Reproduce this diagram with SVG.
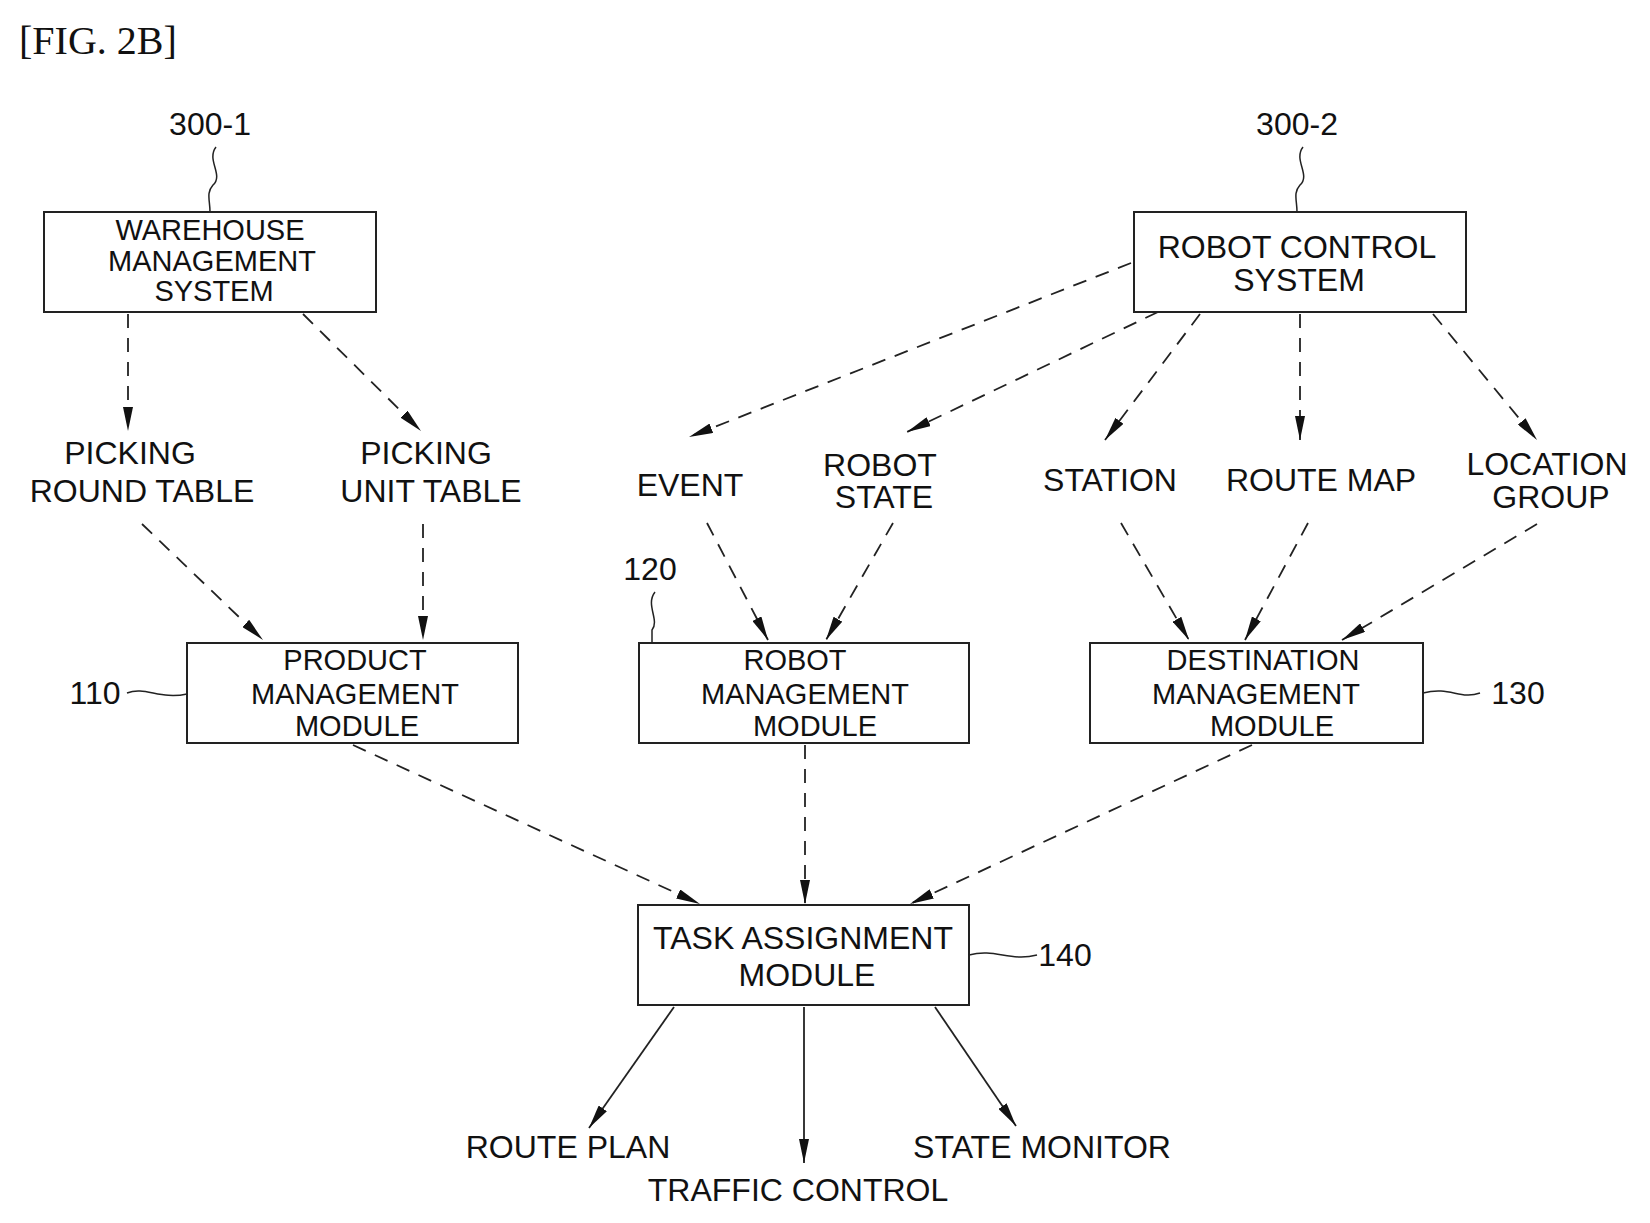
<svg xmlns="http://www.w3.org/2000/svg" width="1650" height="1223" viewBox="0 0 1650 1223">
<style>
text{font-family:"Liberation Sans",Arial,sans-serif;font-size:32px;fill:#111;text-anchor:middle}
.m{font-size:29px}
.box{fill:#fff;stroke:#222;stroke-width:2}
.d{stroke:#222;stroke-width:1.8;fill:none;stroke-dasharray:14 10}
.s{stroke:#222;stroke-width:1.8;fill:none}
.lead{stroke:#222;stroke-width:1.5;fill:none}
</style>
<defs>
<marker id="ah" viewBox="0 0 24 10" refX="24" refY="5" markerWidth="24" markerHeight="10" markerUnits="userSpaceOnUse" orient="auto">
<path d="M0,0 L24,5 L0,10 Z" fill="#111"/>
</marker>
</defs>
<rect width="1650" height="1223" fill="#fff"/>
<text x="19" y="54" style="font-family:'Liberation Serif',serif;font-size:40px;text-anchor:start">[FIG. 2B]</text>

<g id="connectors">
<path class="d" d="M128,314 L128,431" marker-end="url(#ah)"/>
<path class="d" d="M303,314 L421,431" marker-end="url(#ah)"/>
<path class="d" d="M142,524 L263,640" marker-end="url(#ah)"/>
<path class="d" d="M423,524 L423,640" marker-end="url(#ah)"/>
<path class="d" d="M1131,263 L689,437" marker-end="url(#ah)"/>
<path class="d" d="M1158,312 L907,432" marker-end="url(#ah)"/>
<path class="d" d="M1200,314 L1105,440" marker-end="url(#ah)"/>
<path class="d" d="M1300,314 L1300,440" marker-end="url(#ah)"/>
<path class="d" d="M1433,314 L1537,440" marker-end="url(#ah)"/>
<path class="d" d="M707,523 L768,640" marker-end="url(#ah)"/>
<path class="d" d="M893,523 L826,640" marker-end="url(#ah)"/>
<path class="d" d="M1121,523 L1189,640" marker-end="url(#ah)"/>
<path class="d" d="M1308,523 L1245,640" marker-end="url(#ah)"/>
<path class="d" d="M1537,524 L1342,640" marker-end="url(#ah)"/>
<path class="d" d="M353,745 L700,904" marker-end="url(#ah)"/>
<path class="d" d="M805,745 L805,904" marker-end="url(#ah)"/>
<path class="d" d="M1252,745 L910,904" marker-end="url(#ah)"/>
<path class="s" d="M674,1007 L589,1128" marker-end="url(#ah)"/>
<path class="s" d="M804,1007 L804,1163" marker-end="url(#ah)"/>
<path class="s" d="M935,1007 L1016,1126" marker-end="url(#ah)"/>
</g>

<g id="n300-1">
<text x="210" y="135">300-1</text>
<path class="lead" d="M216,147 C206,160 224,175 213,185 C206,193 210,200 210,212"/>
</g>
<g id="wms">
<rect class="box" x="44" y="212" width="332" height="100"/>
<text class="m" x="210" y="240">WAREHOUSE</text>
<text class="m" x="212" y="271">MANAGEMENT</text>
<text class="m" x="214" y="301">SYSTEM</text>
</g>
<g id="n300-2">
<text x="1297" y="135">300-2</text>
<path class="lead" d="M1303,147 C1293,160 1311,175 1300,185 C1293,193 1297,200 1297,212"/>
</g>
<g id="rcs">
<rect class="box" x="1134" y="212" width="332" height="100"/>
<text x="1297" y="258">ROBOT CONTROL</text>
<text x="1299" y="291">SYSTEM</text>
</g>
<g id="picking-round"><text x="130" y="464">PICKING</text><text x="142" y="502">ROUND TABLE</text></g>
<g id="picking-unit"><text x="426" y="464">PICKING</text><text x="431" y="502">UNIT TABLE</text></g>
<g id="event"><text x="690" y="496">EVENT</text></g>
<g id="robot-state"><text x="880" y="476">ROBOT</text><text x="884" y="508">STATE</text></g>
<g id="station"><text x="1110" y="491">STATION</text></g>
<g id="route-map"><text x="1321" y="491">ROUTE MAP</text></g>
<g id="location-group"><text x="1547" y="475">LOCATION</text><text x="1551" y="508">GROUP</text></g>

<g id="product">
<rect class="box" x="187" y="643" width="331" height="100"/>
<text class="m" x="355" y="670">PRODUCT</text>
<text class="m" x="355" y="704">MANAGEMENT</text>
<text class="m" x="357" y="736">MODULE</text>
<text x="95" y="704">110</text>
<path class="lead" d="M127,693 C145,686 160,700 187,694"/>
</g>
<g id="robot-mgmt">
<rect class="box" x="639" y="643" width="330" height="100"/>
<text class="m" x="795" y="670">ROBOT</text>
<text class="m" x="805" y="704">MANAGEMENT</text>
<text class="m" x="815" y="736">MODULE</text>
<text x="650" y="580">120</text>
<path class="lead" d="M655,592 C645,605 660,620 652,630 L652,643"/>
</g>
<g id="dest-mgmt">
<rect class="box" x="1090" y="643" width="333" height="100"/>
<text class="m" x="1263" y="670">DESTINATION</text>
<text class="m" x="1256" y="704">MANAGEMENT</text>
<text class="m" x="1272" y="736">MODULE</text>
<text x="1518" y="704">130</text>
<path class="lead" d="M1423,693 C1450,686 1460,700 1480,693"/>
</g>
<g id="task">
<rect class="box" x="638" y="905" width="331" height="100"/>
<text x="803" y="949">TASK ASSIGNMENT</text>
<text x="807" y="986">MODULE</text>
<text x="1065" y="966">140</text>
<path class="lead" d="M969,955 C995,948 1010,962 1037,955"/>
</g>
<g id="route-plan"><text x="568" y="1158">ROUTE PLAN</text></g>
<g id="traffic"><text x="798" y="1201">TRAFFIC CONTROL</text></g>
<g id="state-monitor"><text x="1042" y="1158">STATE MONITOR</text></g>
</svg>
